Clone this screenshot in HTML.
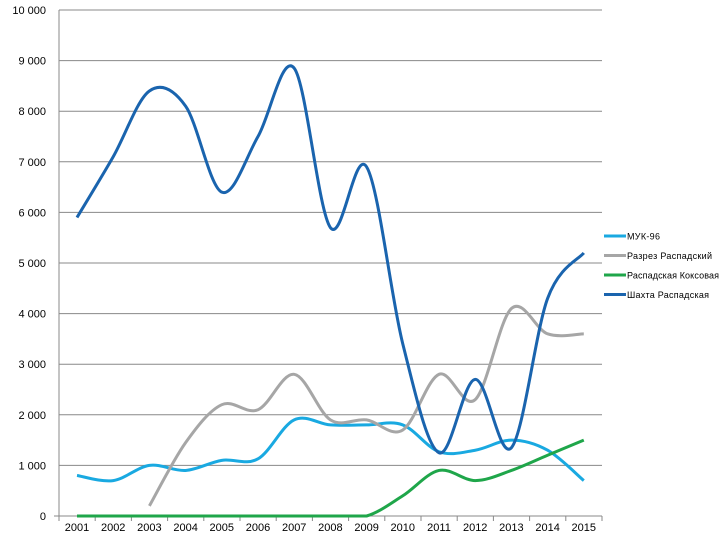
<!DOCTYPE html><html><head><meta charset="utf-8"><style>body{margin:0;background:#fff}svg{display:block;font-family:"Liberation Sans",sans-serif}</style></head><body>
<svg id="s" width="720" height="538" viewBox="0 0 720 538"></svg>
<script>
const s=document.getElementById('s');let h='';
const X0=59,X1=602,Y0=516,K=0.0506,st=36.2;
const yv=v=>Y0-v*K, xv=i=>77+i*st;
for(let v=0;v<=10000;v+=1000){const y=yv(v);h+=`<line x1="${v?X0:54}" x2="${X1}" y1="${y}" y2="${y}" stroke="#888" stroke-width="1"/>`;
h+=`<text x="46" y="${y+4}" font-size="11" text-anchor="end" fill="#000">${v?(v/1000|0)+' 000':'0'}</text>`;}
h+=`<line x1="${X0}" x2="${X0}" y1="10" y2="${Y0}" stroke="#888"/>`;
for(let i=0;i<=15;i++){const x=X0+i*st;h+=`<line x1="${x}" x2="${x}" y1="${Y0}" y2="${Y0+5}" stroke="#888"/>`}
for(let i=0;i<15;i++)h+=`<text x="${xv(i)}" y="531" font-size="11" text-anchor="middle">${2001+i}</text>`;
function path(d,off){let p=d.map((v,i)=>[xv(i+off),yv(v)]);let s='M'+p[0].join(',');const c2=y=>Math.min(y,Y0);
for(let i=0;i<p.length-1;i++){const a=p[i-1]||p[i],b=p[i],c=p[i+1],e=p[i+2]||c;
s+=` C${b[0]+(c[0]-a[0])/6},${c2(b[1]+(c[1]-a[1])/6)} ${c[0]-(e[0]-b[0])/6},${c2(c[1]-(e[1]-b[1])/6)} ${c[0]},${c[1]}`}return s}
const S=[
['#19a9e1',[800,700,1000,900,1100,1130,1900,1800,1800,1800,1270,1300,1500,1300,700],0],
['#a6a6a6',[200,1450,2200,2100,2800,1900,1900,1700,2800,2300,4100,3600,3600],2],
['#1fa64a',[0,0,0,0,0,0,0,0,0,400,900,700,900,1200,1500],0],
['#1a64ae',[5900,7100,8400,8100,6400,7500,8850,5700,6900,3400,1250,2700,1350,4300,5200],0]];
S.forEach(([c,d,o])=>h+=`<path d="${path(d,o)}" fill="none" stroke="${c}" stroke-width="3"/>`);
const L=['МУК-96','Разрез Распадский','Распадская Коксовая','Шахта Распадская'];
L.forEach((t,i)=>{const y=236+i*19.5;h+=`<line x1="604" x2="626" y1="${y}" y2="${y}" stroke="${S[i][0]}" stroke-width="3"/><text x="627" y="${y+3.5}" font-size="9" textLength="${[33,85,92,82][i]}">${t}</text>`});
s.innerHTML=h;
</script></body></html>
